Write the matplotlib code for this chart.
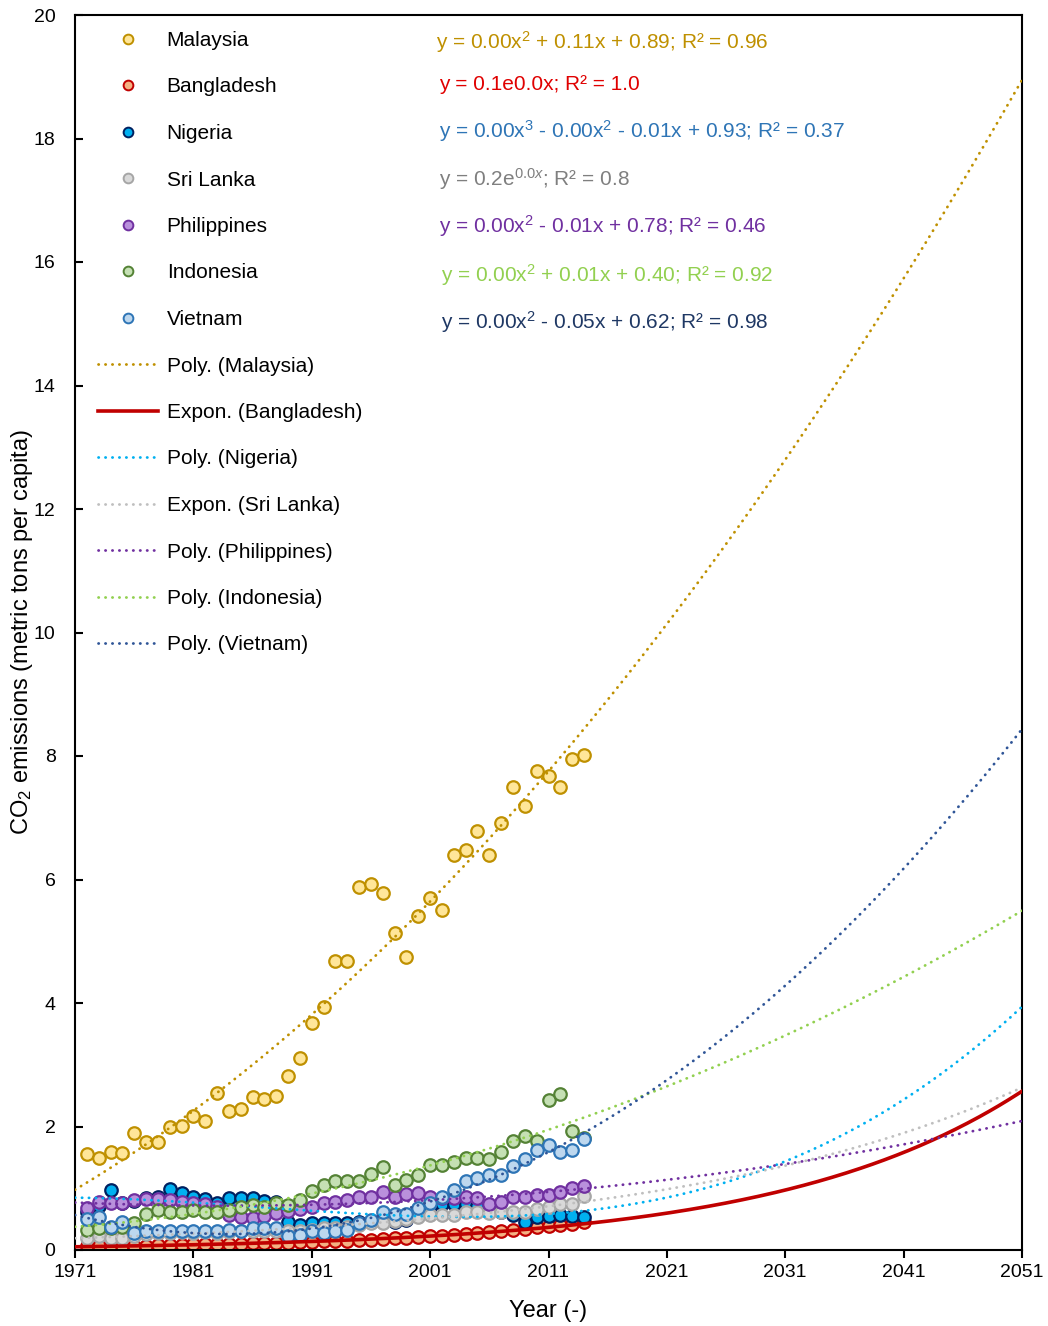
import matplotlib
matplotlib.use("Agg")
import matplotlib.pyplot as plt
import numpy as np
from matplotlib.lines import Line2D

plt.rcParams["font.family"] = ["Liberation Sans", "DejaVu Sans"]
plt.rcParams["mathtext.fontset"] = "custom"
plt.rcParams["mathtext.rm"] = "Liberation Sans"
plt.rcParams["mathtext.it"] = "Liberation Sans:italic"

years = np.arange(1972, 2015)

malaysia = [1.55, 1.49, 1.58, 1.57, 1.89, 1.75, 1.75, 1.99, 2.01, 2.17, 2.09, 2.54, 2.25, 2.28,
            2.47, 2.44, 2.49, 2.82, 3.11, 3.68, 3.94, 4.68, 4.68, 5.88, 5.93, 5.78, 5.13, 4.74,
            5.41, 5.70, 5.50, 6.40, 6.48, 6.79, 6.40, 6.91, 7.50, 7.19, 7.76, 7.68, 7.50, 7.95, 8.02]
bangladesh = [0.057, 0.057, 0.06, 0.07, 0.07, 0.07, 0.08, 0.08, 0.08, 0.09, 0.09, 0.09, 0.10, 0.10,
              0.11, 0.11, 0.12, 0.12, 0.13, 0.13, 0.14, 0.14, 0.15, 0.16, 0.17, 0.18, 0.19, 0.20,
              0.21, 0.22, 0.23, 0.24, 0.26, 0.27, 0.29, 0.303, 0.323, 0.343, 0.373, 0.386, 0.406,
              0.426, 0.446]
nigeria = [0.62, 0.72, 0.97, 0.76, 0.80, 0.84, 0.86, 0.98, 0.92, 0.86, 0.82, 0.76, 0.84, 0.85,
           0.85, 0.80, 0.77, 0.45, 0.40, 0.43, 0.43, 0.43, 0.43, 0.45, 0.45, 0.46, 0.46, 0.48,
           0.65, 0.69, 0.74, 0.74, 0.74, 0.72, 0.65, 0.61, 0.57, 0.46, 0.54, 0.55, 0.56, 0.55, 0.53]
sri_lanka = [0.19, 0.22, 0.19, 0.20, 0.23, 0.26, 0.27, 0.28, 0.29, 0.28, 0.29, 0.28, 0.29, 0.30,
             0.31, 0.31, 0.30, 0.30, 0.31, 0.33, 0.35, 0.35, 0.38, 0.40, 0.43, 0.44, 0.47, 0.51,
             0.54, 0.57, 0.57, 0.57, 0.62, 0.61, 0.60, 0.61, 0.61, 0.62, 0.66, 0.70, 0.74, 0.74, 0.87]
philippines = [0.68, 0.78, 0.76, 0.76, 0.81, 0.82, 0.82, 0.81, 0.78, 0.76, 0.75, 0.70, 0.56, 0.54,
               0.52, 0.55, 0.60, 0.63, 0.67, 0.70, 0.76, 0.78, 0.81, 0.86, 0.86, 0.94, 0.86, 0.91,
               0.92, 0.86, 0.84, 0.84, 0.86, 0.85, 0.74, 0.78, 0.86, 0.86, 0.89, 0.89, 0.94, 1.00, 1.04]
indonesia = [0.32, 0.35, 0.36, 0.38, 0.43, 0.59, 0.65, 0.62, 0.62, 0.65, 0.62, 0.62, 0.65, 0.70,
             0.73, 0.70, 0.76, 0.73, 0.81, 0.95, 1.05, 1.11, 1.11, 1.12, 1.23, 1.35, 1.05, 1.13,
             1.22, 1.38, 1.38, 1.43, 1.49, 1.49, 1.48, 1.59, 1.76, 1.85, 1.76, 2.43, 2.53, 1.92, 1.82]
vietnam = [0.51, 0.54, 0.38, 0.46, 0.28, 0.30, 0.30, 0.31, 0.31, 0.31, 0.31, 0.31, 0.32, 0.31,
           0.35, 0.35, 0.35, 0.22, 0.25, 0.30, 0.28, 0.30, 0.32, 0.43, 0.49, 0.62, 0.59, 0.59,
           0.68, 0.76, 0.86, 0.97, 1.11, 1.16, 1.21, 1.21, 1.36, 1.47, 1.62, 1.70, 1.59, 1.62, 1.79]

countries = ["Malaysia", "Bangladesh", "Nigeria", "Sri Lanka", "Philippines", "Indonesia", "Vietnam"]
values = [malaysia, bangladesh, nigeria, sri_lanka, philippines, indonesia, vietnam]
# trend type: polynomial degree, or "exp" for an exponential fit
trend_kind = [2, "exp", 3, "exp", 2, 2, 2]
equations = [
    "y = 0.00x$^2$ + 0.11x + 0.89; R² = 0.96",
    "y = 0.1e0.0x; R² = 1.0",
    "y = 0.00x$^3$ - 0.00x$^2$ - 0.01x + 0.93; R² = 0.37",
    "y = 0.2e$^{0.0x}$; R² = 0.8",
    "y = 0.00x$^2$ - 0.01x + 0.78; R² = 0.46",
    "y = 0.00x$^2$ + 0.01x + 0.40; R² = 0.92",
    "y = 0.00x$^2$ - 0.05x + 0.62; R² = 0.98",
]

face_colors = ["#FFE699", "#F4B183", "#00B0F0", "#D9D9D9", "#B990DC", "#C5E0B4", "#BDD7EE"]
edge_colors = ["#BF9000", "#C00000", "#002060", "#A6A6A6", "#7030A0", "#548235", "#2E75B6"]
trend_colors = ["#BF9000", "#C00000", "#00B0F0", "#BFBFBF", "#7030A0", "#92D050", "#2F5597"]
eq_colors = ["#BF9000", "#E00000", "#2E75B6", "#7F7F7F", "#7030A0", "#92D050", "#1F3864"]
dotted = (0, (0.1, 2.4))

W, H = 1048, 1326
fig = plt.figure(figsize=(W / 100, H / 100), dpi=100)
ax = fig.add_axes([75 / W, 1 - 1250 / H, (1022 - 75) / W, (1250 - 15) / H])

for vals, fc, ec in zip(values, face_colors, edge_colors):
    ax.plot(years, vals, "o", ms=9, mfc=fc, mec=ec, mew=1.6, zorder=2)

# trendlines fitted to each series and forecast to 2051
x_fit = years - 1971
x_line = np.linspace(0, 80, 400)
for vals, kind, tc in zip(values, trend_kind, trend_colors):
    y = np.asarray(vals)
    if kind == "exp":
        b, a = np.polyfit(x_fit, np.log(y), 1)
        y_line = np.exp(a + b * x_line)
    else:
        y_line = np.polyval(np.polyfit(x_fit, y, kind), x_line)
    if tc == "#C00000":
        ax.plot(1971 + x_line, y_line, "-", color=tc, lw=2.6, zorder=3)
    else:
        ax.plot(1971 + x_line, y_line, color=tc, lw=2, linestyle=dotted,
                dash_capstyle="round", zorder=3)

ax.set_xlim(1971, 2051)
ax.set_ylim(0, 20)
ax.set_xticks(np.arange(1971, 2052, 10))
ax.set_yticks(np.arange(0, 21, 2))
ax.tick_params(axis="y", direction="in", length=6, width=1.5, labelsize=14, pad=14)
ax.tick_params(axis="x", direction="out", length=6, width=1.5, labelsize=14, pad=4)
for sp in ax.spines.values():
    sp.set_linewidth(1.5)
ax.set_xlabel("Year (-)", fontsize=17, labelpad=14)
ax.set_ylabel("CO$_2$ emissions (metric tons per capita)", fontsize=17, labelpad=-1)

handles, labels = [], []
for name, fc, ec in zip(countries, face_colors, edge_colors):
    handles.append(Line2D([], [], ls="none", marker="o", ms=7, mfc=fc, mec=ec, mew=1.4))
    labels.append(name)
for name, kind, tc in zip(countries, trend_kind, trend_colors):
    prefix = "Expon." if kind == "exp" else "Poly."
    if tc == "#C00000":
        handles.append(Line2D([], [], color=tc, lw=2.6))
    else:
        handles.append(Line2D([], [], color=tc, lw=2, linestyle=dotted, dash_capstyle="round"))
    labels.append(f"{prefix} ({name})")

ax.legend(handles, labels, loc="upper left", bbox_to_anchor=(98 / W, 1 - 31 / H),
          bbox_transform=fig.transFigure, frameon=False, fontsize=15, handlelength=2.9,
          handletextpad=0.4, labelspacing=1.32, borderpad=0, borderaxespad=0)

eq_y = [42, 84, 131, 179, 226, 275, 322]
eq_x = [436, 439, 439, 439, 439, 441, 441]
for s, c, xx, yy in zip(equations, eq_colors, eq_x, eq_y):
    fig.text(xx / W, 1 - yy / H, s, color=c, fontsize=15, va="center", ha="left")

fig.savefig("out.png", dpi=100)
